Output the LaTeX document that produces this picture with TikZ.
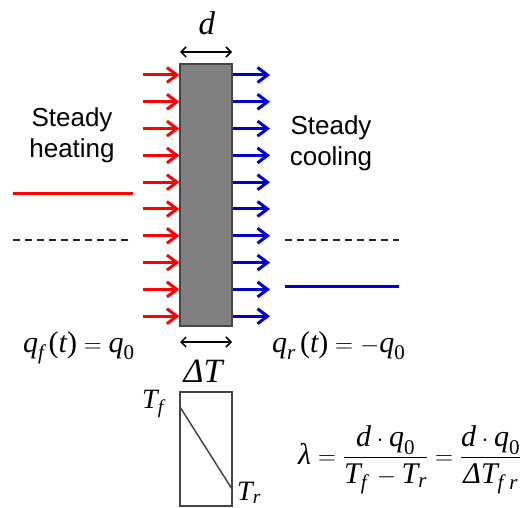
\documentclass[tikz,border=0pt]{standalone}
\usepackage{amsmath}
\usepackage{fontspec}
\setmainfont{Liberation Serif}
\newfontfamily\labelsans{Liberation Sans}
\usetikzlibrary{arrows.meta}
\definecolor{heatred}{RGB}{255,0,0}
\definecolor{coolblue}{RGB}{0,0,205}
\definecolor{wallgray}{RGB}{128,128,128}
\definecolor{edgegray}{RGB}{70,70,70}
\newcommand\mi[1]{\textit{#1}}
\newcommand\mr[1]{\textup{#1}}
\tikzset{
  heatarrow/.style={heatred, line width=3pt, -{Straight Barb[length=10pt,width=15pt]}},
  coolarrow/.style={coolblue, line width=3pt, -{Straight Barb[length=10pt,width=15pt]}},
  dimarrow/.style={black, line width=1.5pt, {Straight Barb[length=5pt,width=10pt]}-{Straight Barb[length=5pt,width=10pt]}},
  heatline/.style={heatred, line width=3pt},
  coolline/.style={coolblue, line width=3pt},
  refline/.style={black!85, line width=2.2pt, dash pattern=on 7pt off 5pt},
  sidetext/.style={font=\labelsans\fontsize{26}{31}\selectfont, align=center, inner sep=0pt, anchor=north},
  mathtext/.style={font=\fontsize{30}{36}\selectfont, inner sep=0pt, anchor=base west},
}
\begin{document}
\begin{tikzpicture}[x=1pt,y=-1pt]
\useasboundingbox (0,0) rectangle (528,508);
% wall
\node[draw=edgegray, line width=1.2pt, fill=wallgray, minimum width=52pt, minimum height=262pt, inner sep=0pt] (wall) at (206,195) {};
% arrows
\foreach \i in {0,...,9}{
  \pgfmathsetmacro{\yy}{75+26.8*\i}
  \coordinate (hs\i) at (143,\yy);
  \coordinate (ce\i) at (270,\yy);
  \draw[heatarrow] (hs\i) -- (hs\i -| wall.west);
  \draw[coolarrow] (ce\i -| wall.east) -- (ce\i);
}
% thickness dimension
\coordinate (dl) at (180,52);
\coordinate (dr) at (232,52);
\draw[dimarrow] (dl) -- (dr);
\node[font=\fontsize{33}{40}\selectfont, inner sep=0pt, anchor=base] (dlab) at (207,35) {\mi{d}};
% temperature difference dimension
\coordinate (tl) at (180,342);
\coordinate (tr) at (232,342);
\draw[dimarrow] (tl) -- (tr);
\node[font=\fontsize{34}{40}\selectfont, inner sep=0pt, anchor=base] (dTlab) at (204,382) {\mi{Δ}\mi{T}};
% level lines
\coordinate (rl1) at (13,194); \coordinate (rl2) at (133,194);
\draw[heatline] (rl1) -- (rl2);
\coordinate (dl1) at (13,240); \coordinate (dl2) at (133,240);
\draw[refline] (dl1) -- (dl2);
\coordinate (dr1) at (285,240); \coordinate (dr2) at (399,240);
\draw[refline] (dr1) -- (dr2);
\coordinate (bl1) at (285,286); \coordinate (bl2) at (399,286);
\draw[coolline] (bl1) -- (bl2);
% side texts
\node[sidetext] (heat) at (72,107) {Steady\\heating};
\node[sidetext] (cool) at (331,115) {Steady\\cooling};
% boundary fluxes
\node[mathtext] (qf) at (23,352) {$\mi{q}_{\mi{f}}\,\mr{(}\mi{t}\mr{)} = \mi{q}_{\mr{0}}$};
\node[mathtext] (qr) at (272,352) {$\mi{q}_{\mi{r}}\,\mr{(}\mi{t}\mr{)} = -\mi{q}_{\mr{0}}$};
% temperature profile box
\node[draw=edgegray, line width=1.5pt, minimum width=52pt, minimum height=114pt, inner sep=0pt] (tbox) at (206,449) {};
\coordinate (tf) at (180,407);
\coordinate (trr) at (232,489);
\draw[edgegray, line width=1.5pt] (tf) -- (trr);
\node[font=\fontsize{28}{34}\selectfont, inner sep=0pt, anchor=base west] (Tf) at (142,408) {$\mi{T}_{\mi{f}}$};
\node[font=\fontsize{28}{34}\selectfont, inner sep=0pt, anchor=base west] (Tr) at (237,500) {$\mi{T}_{\mi{r}}$};
% conductivity
\node[mathtext] (lam) at (298,464) {$\displaystyle \mi{λ} = \frac{\mi{d}\cdot\mi{q}_{\mr{0}}}{\rule{0pt}{0.75em}\mi{T}_{\mi{f}}\, - \mi{T}_{\mi{r}}} = \frac{\mi{d}\cdot\mi{q}_{\mr{0}}}{\rule{0pt}{0.75em}\mi{Δ}\mi{T}_{\mi{f}\;\mi{r}}}$};
\end{tikzpicture}
\end{document}
